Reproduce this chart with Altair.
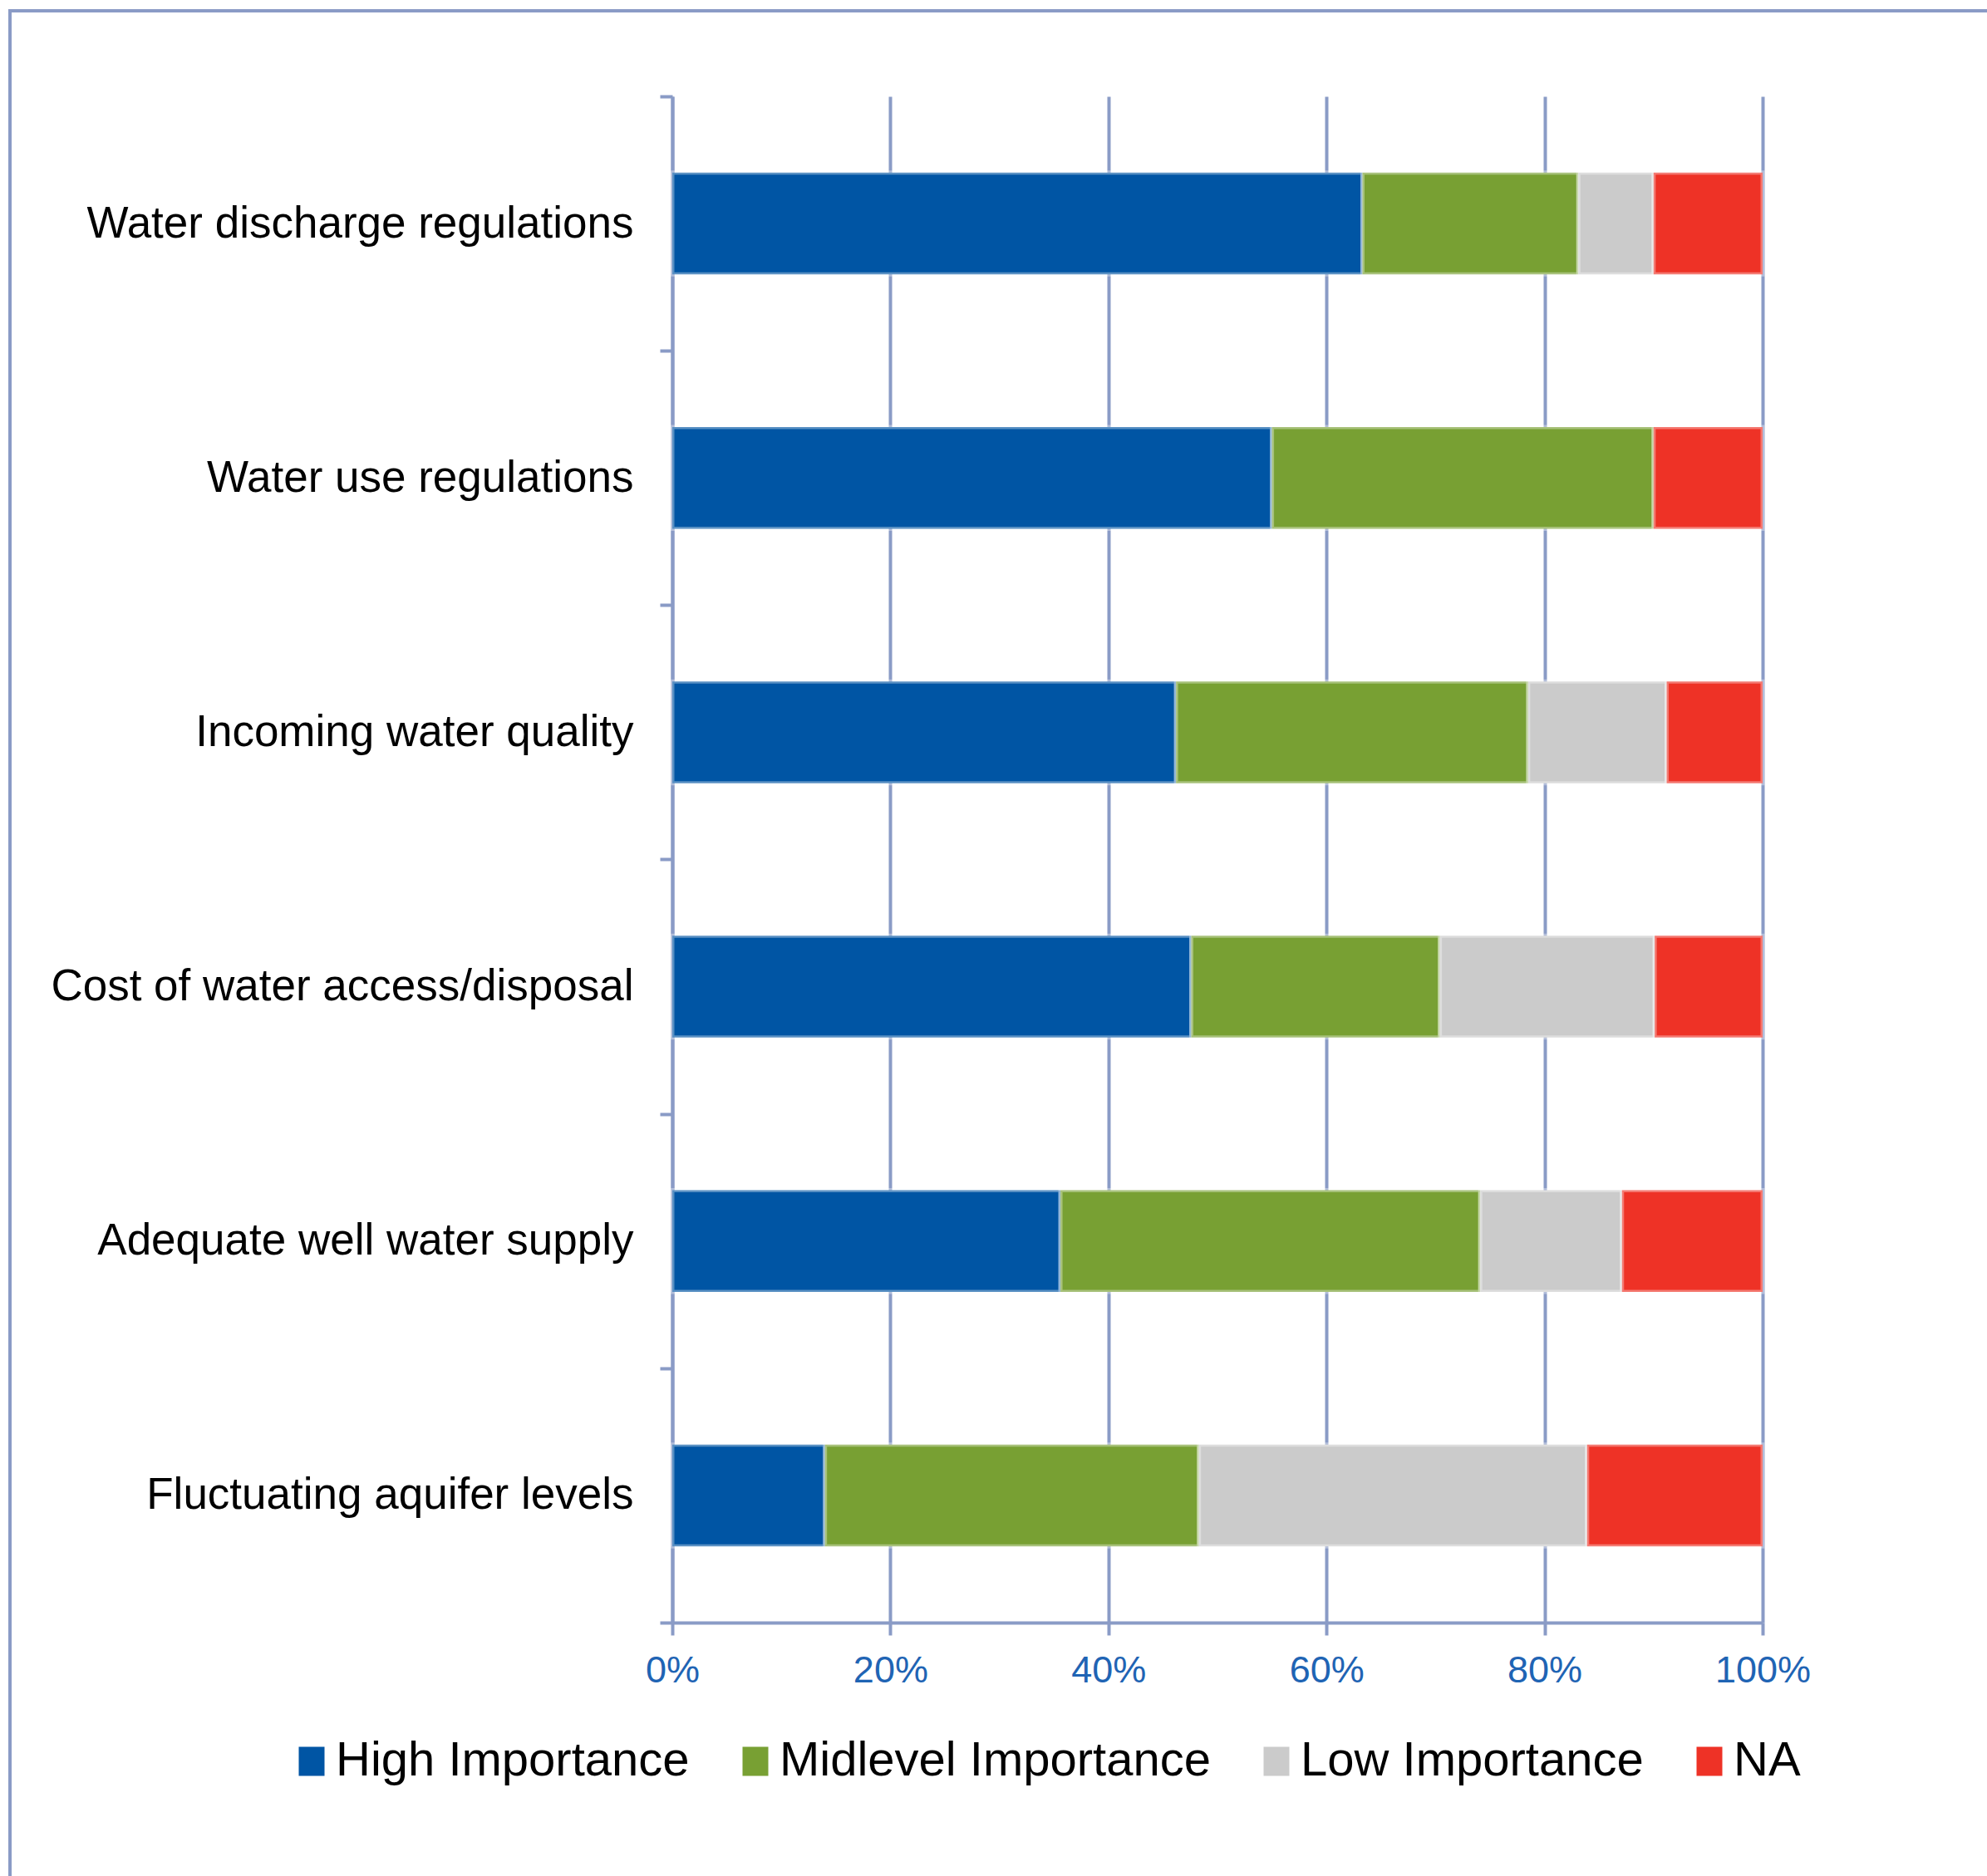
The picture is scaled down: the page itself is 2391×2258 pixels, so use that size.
import altair as alt
import pandas as pd

categories = [
    "Water discharge regulations",
    "Water use regulations",
    "Incoming water quality",
    "Cost of water access/disposal",
    "Adequate well water supply",
    "Fluctuating aquifer levels",
]
levels = ["High Importance", "Midlevel Importance", "Low Importance", "NA"]
high = [63.3, 55.0, 46.2, 47.6, 35.6, 14.0]
mid = [19.8, 35.0, 32.3, 22.8, 38.5, 34.3]
low = [6.9, 0.0, 12.7, 19.7, 13.0, 35.6]
na = [10.0, 10.0, 8.8, 9.9, 12.9, 16.1]
colors = ["#0055a4", "#78a033", "#cbcbcb", "#ee3226"]
x_ticks = [0, 0.2, 0.4, 0.6, 0.8, 1.0]

rows = []
for i, c in enumerate(categories):
    for j, (lev, series) in enumerate(zip(levels, [high, mid, low, na])):
        rows.append({"category": c, "level": lev, "order": j, "value": series[i]})
df = pd.DataFrame(rows)

GRID = "#8a9bc6"
FONT = "Liberation Sans"
H = 1837
STEP = H / len(categories)
HALF_GAP = 0.3 * STEP

bars = (
    alt.Chart(df)
    .transform_filter("datum.value > 0")
    .mark_bar(stroke="white", strokeWidth=5, strokeOpacity=0.35)
    .encode(
        y=alt.Y(
            "category:N",
            sort=categories,
            title=None,
            scale=alt.Scale(paddingInner=0.6, paddingOuter=0.3),
            axis=alt.Axis(
                bandPosition=2.5,
                tickOffset=-HALF_GAP,
                tickExtra=True,
                labelOffset=HALF_GAP,
                grid=False,
                domain=True,
                domainColor=GRID,
                domainWidth=4,
                ticks=True,
                tickColor=GRID,
                tickWidth=4,
                tickSize=15,
                labelFont=FONT,
                labelFontSize=53,
                labelColor="#000000",
                labelPadding=32,
                labelLimit=900,
            ),
        ),
        x=alt.X(
            "value:Q",
            stack="normalize",
            title=None,
            scale=alt.Scale(domain=[0, 1]),
            axis=alt.Axis(
                values=x_ticks,
                format=".0%",
                grid=True,
                gridColor=GRID,
                gridWidth=4,
                gridOpacity=1,
                domain=True,
                domainColor=GRID,
                domainWidth=4,
                ticks=True,
                tickColor=GRID,
                tickWidth=4,
                tickSize=15,
                labelFont=FONT,
                labelFontSize=45,
                labelColor="#1f64b4",
                labelPadding=20,
                labelFlush=False,
                labelOverlap=False,
            ),
        ),
        color=alt.Color(
            "level:N",
            sort=levels,
            scale=alt.Scale(domain=levels, range=colors),
            legend=alt.Legend(
                orient="none",
                legendX=-463,
                legendY=1975,
                direction="horizontal",
                columns=4,
                title=None,
                symbolType="M-0.886,-1L0.886,-1L0.886,1L-0.886,1Z",
                symbolSize=1225,
                symbolStrokeWidth=0,
                symbolOpacity=1,
                labelFont=FONT,
                labelFontSize=58,
                labelColor="#000000",
                labelOffset=0,
                columnPadding=50,
                labelLimit=900,
            ),
        ),
        order=alt.Order("order:Q"),
    )
)

frame = (
    alt.Chart(alt.Data(values=[{"f": 1}]))
    .mark_rect(fillOpacity=0, stroke=GRID, strokeWidth=4)
    .encode(
        x=alt.value(-797),
        x2=alt.value(1800),
        y=alt.value(-103),
        y2=alt.value(2400),
    )
)

chart = (
    alt.layer(frame, bars)
    .properties(
        width=1312,
        height=H,
        autosize=alt.AutoSizeParams(type="none"),
        padding={"left": 809, "top": 116, "right": 270, "bottom": 305},
        background="white",
    )
    .configure_view(stroke=None)
)

chart.save("out.html", embed_options={"renderer": "svg", "actions": False})
